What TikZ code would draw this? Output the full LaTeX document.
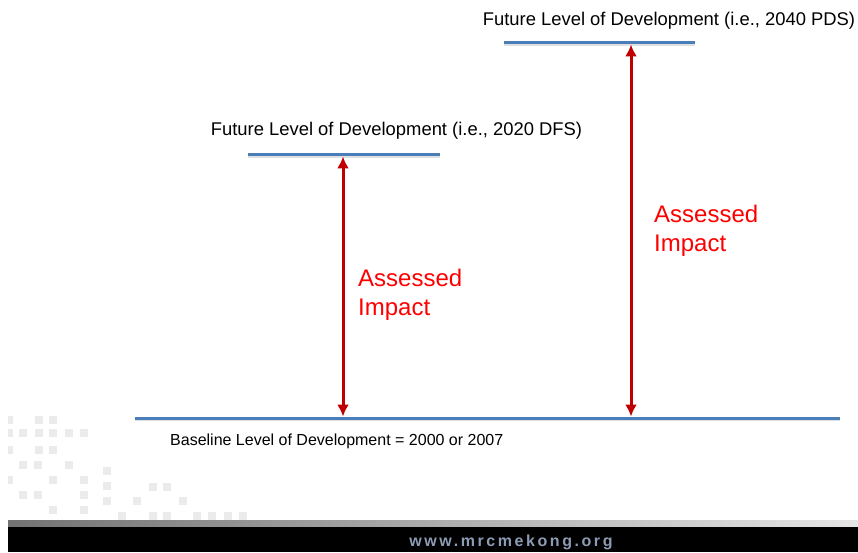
\documentclass[tikz,border=0pt]{standalone}
\usepackage{fontspec}
\setmainfont{Liberation Sans}
\usepackage{tikz}
\usetikzlibrary{arrows.meta}
\definecolor{levelblue}{HTML}{4A7EBB}
\definecolor{impactred}{HTML}{C00000}
\definecolor{labelred}{HTML}{FF0000}
\definecolor{webgrey}{HTML}{8C9CB4}
\definecolor{tilegrey}{HTML}{EBEBEB}

\begin{document}
\begin{tikzpicture}[x=1pt,y=1pt]
\tikzset{>={Latex[width=12pt,length=12pt]}}
\tikzstyle{level} =[draw=levelblue,line width=3pt]
\tikzstyle{levelshadow} =[draw=black!12,line width=2pt]
\tikzstyle{impact} =[<->,draw=impactred,line width=3pt]
\tikzstyle{caption} =[inner sep=0pt,font=\fontsize{18.4}{22}\selectfont]
\tikzstyle{assessed} =[inner sep=0pt,anchor=west,align=left,text=labelred,font=\fontsize{24}{29}\selectfont]
\tikzstyle{tile} =[fill=tilegrey]

\useasboundingbox (0,0) rectangle (858,552);

\foreach \tx/\ty in {39/132,53/132,23/119,39/119,53/119,69/119,84/119,39/102,53/102,
  23/87,38/87,69/87,53/72,84/72,23/57,38/57,84/57,53/42,84/42,
  107/81,107/66,107/51,153/65,167/65,137/51,183/51,
  122/36,153/36,167/36,197/36,212/36,228/36,243/36}
  \fill[tile] (\tx-4,\ty-4) rectangle (\tx+4,\ty+4);
\foreach \ty in {132,119,102,72}
  \fill[tile] (8,\ty-4) rectangle (13,\ty+4);

\shade[left color=black!55,right color=black!10] (8,25) rectangle (858,32);
\fill[black] (8,0) rectangle (858,25);
\node[font=\bfseries\fontsize{16}{18}\selectfont\addfontfeature{LetterSpace=16},text=webgrey] (web) at (511,10) {www.mrcmekong.org};

\coordinate (base w) at (135,134);
\coordinate (base e) at (840,134);
\coordinate (dfs w) at (248,397);
\coordinate (dfs e) at (440,397);
\coordinate (pds w) at (504,509);
\coordinate (pds e) at (695,509);

\draw[levelshadow] ([yshift=-2pt]base w) -- ([yshift=-2pt]base e);
\draw[levelshadow] ([yshift=-2pt]dfs w) -- ([yshift=-2pt]dfs e);
\draw[levelshadow] ([yshift=-2pt]pds w) -- ([yshift=-2pt]pds e);
\draw[level] (base w) -- (base e);
\draw[level] (dfs w) -- (dfs e);
\draw[level] (pds w) -- (pds e);

\coordinate (dfs top) at (343,395.5);
\coordinate (dfs bot) at (343,135.5);
\coordinate (pds top) at (631,507.5);
\coordinate (pds bot) at (631,135.5);

\draw[impact] (dfs bot) -- (dfs top);
\draw[impact] (pds bot) -- (pds top);

\node[caption] (dfs label) at (396.5,421) {Future Level of Development (i.e., 2020 DFS)};
\node[caption] (pds label) at (669,531) {Future Level of Development (i.e., 2040 PDS)};
\node[caption,anchor=west,font=\fontsize{16}{19}\selectfont] (base label) at (170,111) {Baseline Level of Development = 2000 or 2007};

\node[assessed] (dfs impact) at (358,257) {Assessed\\Impact};
\node[assessed] (pds impact) at (654,321) {Assessed\\Impact};
\end{tikzpicture}
\end{document}
